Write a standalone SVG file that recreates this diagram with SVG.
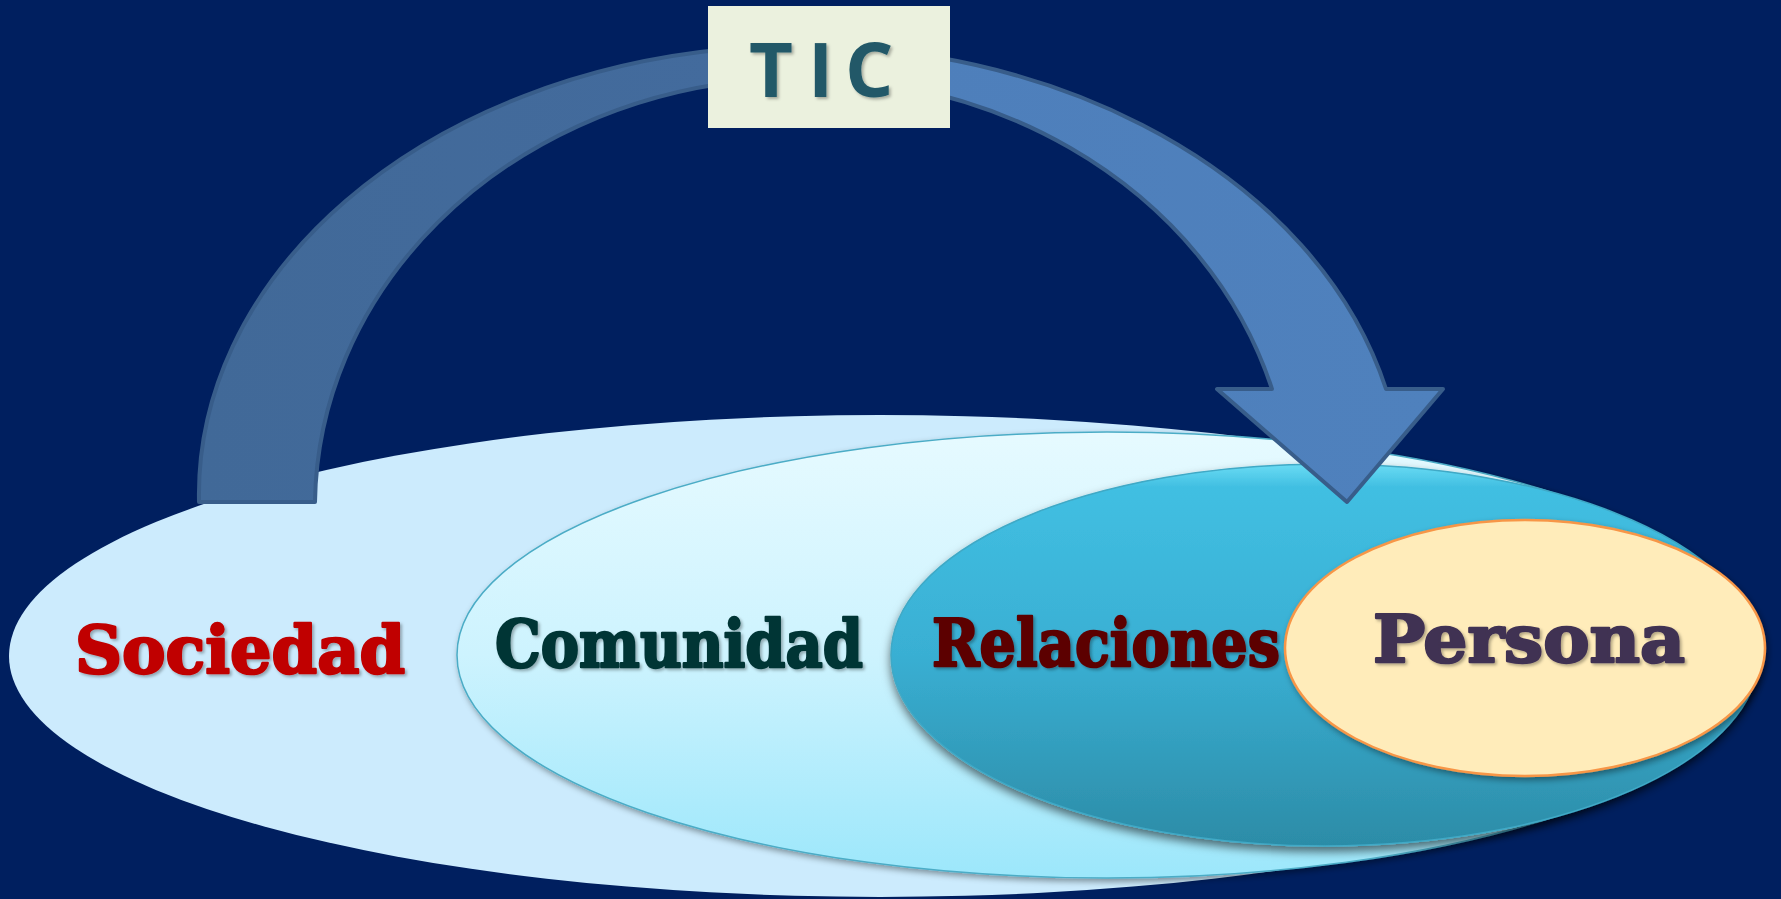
<svg xmlns="http://www.w3.org/2000/svg" width="1781" height="899" viewBox="0 0 1781 899">
  <defs>
    <linearGradient id="gCom" x1="0" y1="0" x2="0" y2="1">
      <stop offset="0" stop-color="#E6FAFF"/>
      <stop offset="0.5" stop-color="#CDF3FE"/>
      <stop offset="1" stop-color="#9CE7FB"/>
    </linearGradient>
    <linearGradient id="gRel" x1="0" y1="0" x2="0" y2="1">
      <stop offset="0" stop-color="#6ADCF4"/>
      <stop offset="0.06" stop-color="#41BFE2"/>
      <stop offset="0.5" stop-color="#39AFD3"/>
      <stop offset="1" stop-color="#2C8CA7"/>
    </linearGradient>
    <linearGradient id="gArrow" x1="199" y1="0" x2="1443" y2="0" gradientUnits="userSpaceOnUse">
      <stop offset="0" stop-color="#416998"/>
      <stop offset="0.42" stop-color="#436B9D"/>
      <stop offset="0.58" stop-color="#4E7FBB"/>
      <stop offset="1" stop-color="#4F81BD"/>
    </linearGradient>
    <filter id="shadow" x="-10%" y="-10%" width="120%" height="130%">
      <feDropShadow dx="0" dy="5" stdDeviation="5" flood-color="#000" flood-opacity="0.55"/>
    </filter>
    <filter id="shadowS" x="-10%" y="-10%" width="120%" height="130%">
      <feDropShadow dx="2" dy="3" stdDeviation="3" flood-color="#000" flood-opacity="0.4"/>
    </filter>
    <filter id="txtShadow" x="-10%" y="-10%" width="120%" height="130%">
      <feDropShadow dx="2" dy="2" stdDeviation="1.5" flood-color="#000" flood-opacity="0.3"/>
    </filter>
  </defs>
  <style>
    .lbl { font-family: "DejaVu Serif", "Liberation Serif", serif; font-weight: bold; font-size: 66px; stroke-width: 2.5px; stroke-linejoin: round; }
  </style>
  <rect x="0" y="0" width="1781" height="899" fill="#001F5F"/>

  <g id="sociedad">
    <ellipse cx="880" cy="656" rx="871" ry="241" fill="#CCEBFD"/>
    <text class="lbl" x="75" y="673" textLength="330" lengthAdjust="spacingAndGlyphs" fill="#C00000" stroke="#C00000" filter="url(#txtShadow)">Sociedad</text>
  </g>

  <g id="comunidad">
    <ellipse cx="1107" cy="655" rx="650" ry="223" fill="url(#gCom)" stroke="#4BACC6" stroke-width="1.5" filter="url(#shadowS)"/>
    <text class="lbl" x="495" y="667" textLength="368" lengthAdjust="spacingAndGlyphs" fill="#013536" stroke="#013536" filter="url(#txtShadow)">Comunidad</text>
  </g>

  <g id="relaciones">
    <ellipse cx="1325" cy="655" rx="434" ry="191" fill="url(#gRel)" stroke="#3FA9C6" stroke-width="1.5" filter="url(#shadow)"/>
    <text class="lbl" x="932" y="666" textLength="348" lengthAdjust="spacingAndGlyphs" fill="#5C0000" stroke="#5C0000" filter="url(#txtShadow)">Relaciones</text>
  </g>

  <g id="persona">
    <ellipse cx="1525" cy="648" rx="240" ry="128" fill="#FFECBA" stroke="#F79646" stroke-width="2.5" filter="url(#shadowS)"/>
    <text class="lbl" x="1373" y="662" textLength="312" lengthAdjust="spacingAndGlyphs" fill="#403152" stroke="#403152" font-size="70" filter="url(#txtShadow)">Persona</text>
  </g>

  <g id="connectors">
    <path d="M 199,502 A 602 449 0 0 1 1386,389 L 1443,389 L 1347,502 L 1217,389 L 1272,389 A 488 430 0 0 0 315,502 Z" fill="url(#gArrow)" stroke="#385D8A" stroke-width="4" stroke-linejoin="round"/>
  </g>

  <g id="tic">
    <rect x="708" y="6" width="242" height="122" fill="#EBF1DE"/>
    <text x="749 808 845" y="97" font-family="Open Sans, Noto Sans, sans-serif" font-weight="bold" font-size="76" fill="#215968" filter="url(#txtShadow)">TIC</text>
  </g>
</svg>
